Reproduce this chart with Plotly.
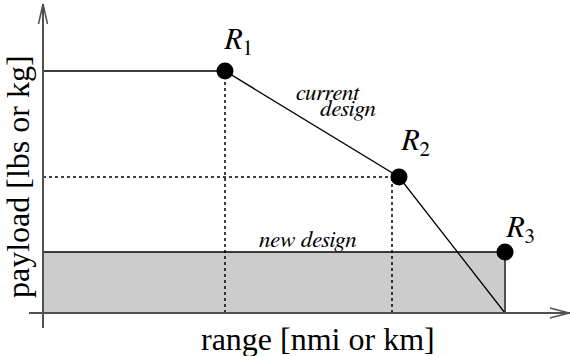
import plotly.graph_objects as go

# Data (range in nmi-like units, payload in lbs-like units)
point_labels = ["R<sub>1</sub>", "R<sub>2</sub>", "R<sub>3</sub>"]
point_range = [1820, 3560, 4620]
point_payload = [24200, 13600, 6100]

# current design curve: plateau, R1, R2, zero-payload end
current_range = [0, 1820, 3560, 4620]
current_payload = [24200, 24200, 13600, 0]

# new design box
new_range = [0, 4620, 4620]
new_payload = [6100, 6100, 0]

# dotted guides
guide_r1_range = 1820
guide_r2_range = 3490
guide_r2_payload = 13600

FONT = "Liberation Serif"
IFONT = "FreeSerif, Liberation Serif"
AX = "#505050"

fig = go.Figure()

# gray shaded region for new design
fig.add_trace(go.Scatter(
    x=[0, new_range[1], new_range[1], 0, 0],
    y=[0, 0, new_payload[1], new_payload[1], 0],
    fill="toself", fillcolor="#cccccc", mode="none", hoverinfo="skip"))

# dotted guides
fig.add_trace(go.Scatter(x=[guide_r1_range, guide_r1_range], y=[0, point_payload[0]],
                         mode="lines", line=dict(color="black", width=1.5, dash="dot")))
fig.add_trace(go.Scatter(x=[guide_r2_range, guide_r2_range], y=[0, guide_r2_payload],
                         mode="lines", line=dict(color="black", width=1.5, dash="dot")))
fig.add_trace(go.Scatter(x=[0, point_range[1]], y=[guide_r2_payload, guide_r2_payload],
                         mode="lines", line=dict(color="black", width=1.5, dash="dot")))

# new design top line
fig.add_trace(go.Scatter(x=new_range[:2], y=new_payload[:2], mode="lines",
                         line=dict(color="black", width=1.5)))
fig.add_trace(go.Scatter(x=new_range[1:], y=new_payload[1:], mode="lines",
                         line=dict(color=AX, width=2)))

# current design curve
fig.add_trace(go.Scatter(x=current_range, y=current_payload, mode="lines",
                         line=dict(color="black", width=1.3)))

# axes lines
fig.add_trace(go.Scatter(x=[-140, 5270], y=[0, 0], mode="lines", line=dict(color=AX, width=2)))
fig.add_trace(go.Scatter(x=[0, 0], y=[-1500, 30900], mode="lines", line=dict(color=AX, width=2)))
# arrowheads
fig.add_trace(go.Scatter(x=[5070, 5260, 5070], y=[500, 0, -500], mode="lines",
                         line=dict(color=AX, width=1.5)))
fig.add_trace(go.Scatter(x=[-45, 0, 45], y=[28900, 30900, 28900], mode="lines",
                         line=dict(color=AX, width=1.5)))

# points
fig.add_trace(go.Scatter(x=point_range, y=point_payload, mode="markers",
                         marker=dict(color="black", size=17)))

# point labels
offsets = [(130, 2900), (160, 3400), (150, 2200)]
for lab, xr, yp, (dx, dy) in zip(point_labels, point_range, point_payload, offsets):
    fig.add_annotation(x=xr + dx, y=yp + dy, text="<i>" + lab.replace("<sub>", "</i><sub>"),
                       showarrow=False, font=dict(family=IFONT, size=30, color="black"))

fig.add_annotation(x=2850, y=22000, text="<i>current</i>", showarrow=False,
                   font=dict(family=IFONT, size=23, color="black"))
fig.add_annotation(x=3050, y=20400, text="<i>design</i>", showarrow=False,
                   font=dict(family=IFONT, size=23, color="black"))
fig.add_annotation(x=2650, y=7300, text="<i>new design</i>", showarrow=False,
                   font=dict(family=IFONT, size=23, color="black"))

fig.add_annotation(x=2750, y=-2600, text="range [nmi or km]", showarrow=False,
                   font=dict(family=FONT, size=32, color="black"))
fig.add_annotation(x=-250, y=13600, text="payload [lbs or kg]", showarrow=False, textangle=-90,
                   font=dict(family=FONT, size=32, color="black"))

fig.update_layout(
    width=570, height=356, showlegend=False,
    margin=dict(l=0, r=0, t=0, b=0),
    paper_bgcolor="white", plot_bgcolor="white",
    xaxis=dict(range=[-430, 5270], visible=False, fixedrange=True),
    yaxis=dict(range=[-4300, 31300], visible=False, fixedrange=True),
)
fig.write_html("out.html", config={"displayModeBar": False},
               post_script="document.body.style.margin='0';document.body.style.padding='0';")
